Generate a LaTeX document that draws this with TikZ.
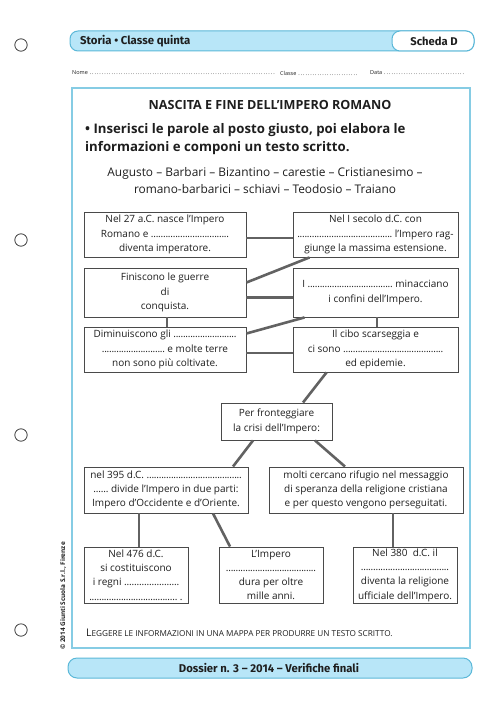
\documentclass[tikz,border=0pt]{standalone}
\usepackage{fontspec}
\setmainfont{Open Sans}
\newfontfamily\hdfont{Fira Sans}
\usetikzlibrary{calc}
\definecolor{hdfill}{HTML}{B8E6F8}
\definecolor{hdline}{HTML}{5BB8D8}
\definecolor{frameline}{HTML}{86CCE4}
\definecolor{boxline}{HTML}{4A4A4A}
\definecolor{conn}{HTML}{626262}
\definecolor{txt}{HTML}{1E1E1E}
\newcommand\dl[1]{\hbox to #1{\xleaders\hbox to 2.4pt{\hss.\hss}\hfil}}
\begin{document}
\begin{tikzpicture}[x=1pt,y=-1pt,
  bx/.style={draw=boxline, line width=0.9pt, fill=white, align=center, inner sep=0pt,
     font=\fontsize{10}{14.3}\selectfont, text=txt},
  cn/.style={draw=conn, line width=2.6pt},
  bar/.style={draw=hdline, line width=1pt, fill=hdfill, rounded corners=8pt},
  hole/.style={draw=black!75, line width=0.8pt},
  lbl/.style={text=txt, inner sep=0pt}]
\useasboundingbox (0,0) rectangle (500,708);
% holes
\foreach \yy in {45,240,435,630} \draw[hole] (21,\yy) circle[radius=6.2pt];
% header bar
\draw[bar] (70,31) rectangle (474,51);
\draw[bar, fill=white] (392,31) rectangle (474,51);
\node[lbl, anchor=west, font=\hdfont\fontsize{11.4}{13}\selectfont\bfseries] (hd) at (80,41) {Storia • Classe quinta};
\node[lbl, font=\hdfont\fontsize{11.2}{12}\selectfont\bfseries] (sc) at (434,41.5) {Scheda D};
% name line
\node[lbl, anchor=west, font=\fontsize{5.5}{6}\selectfont] (nome) at (72,73) {Nome \dl{186pt}};
\node[lbl, anchor=west, font=\fontsize{5.5}{6}\selectfont] (classe) at (280,73) {Classe \dl{60pt}};
\node[lbl, anchor=west, font=\fontsize{5.5}{6}\selectfont] (data) at (370,73) {Data \dl{81pt}};
% frame
\draw[frameline, line width=1.3pt] (72,88) rectangle (470,648);
% title and instructions
\node[lbl, font=\fontsize{12.6}{14}\selectfont\bfseries] (title) at (270,105) {NASCITA E FINE DELL’IMPERO ROMANO};
\node[lbl, anchor=north west, align=left, font=\fontsize{13.2}{18}\selectfont\bfseries] (instr) at (85,123)
  {• Inserisci le parole al posto giusto, poi elabora le\\informazioni e componi un testo scritto.};
\node[lbl, align=center, font=\fontsize{11.9}{17}\selectfont] (words) at (265,180.5)
  {Augusto – Barbari – Bizantino – carestie – Cristianesimo –\\romano-barbarici – schiavi – Teodosio – Traiano};
% boxes
\node[bx, minimum width=162pt, minimum height=45pt] (b1) at (165,234.5)
  {Nel 27 a.C. nasce l’Impero\\Romano e \dl{78pt}\\diventa imperatore.};
\node[bx, minimum width=165pt, minimum height=45pt] (b2) at (375.5,234.5)
  {Nel I secolo d.C. con\\\dl{95pt} l’Impero rag-\\giunge la massima estensione.};
\node[bx, minimum width=162pt, minimum height=49pt] (b3) at (165,292.5)
  {Finiscono le guerre\\di\\conquista.};
\node[bx, minimum width=165pt, minimum height=49pt] (b4) at (375.5,292.5)
  {I \dl{85pt} minacciano\\i confini dell’Impero.};
\node[bx, minimum width=162pt, minimum height=45pt] (b5) at (165,349.5)
  {Diminuiscono gli \dl{63pt}\\\dl{63pt} e molte terre\\non sono più coltivate.};
\node[bx, minimum width=165pt, minimum height=45pt] (b6) at (375.5,349.5)
  {Il cibo scarseggia e\\ci sono \dl{100pt}\\ed epidemie.};
\node[bx, minimum width=111pt, minimum height=37pt] (b7) at (276.5,421.5)
  {Per fronteggiare\\la crisi dell’Impero:};
\node[bx, minimum width=164pt, minimum height=46pt] (b8) at (166,490)
  {nel 395 d.C. \dl{95pt}\\\dl{15pt} divide l’Impero in due parti:\\Impero d’Occidente e d’Oriente.};
\node[bx, minimum width=194pt, minimum height=46pt] (b9) at (366,490)
  {molti cercano rifugio nel messaggio\\di speranza della religione cristiana\\e per questo vengono perseguitati.};
\node[bx, minimum width=104pt, minimum height=56pt] (b10) at (136,575)
  {Nel 476 d.C.\\si costituiscono\\i regni \dl{55pt}\\\dl{88pt} .};
\node[bx, minimum width=104pt, minimum height=56pt] (b11) at (271,575)
  {L’Impero\\\dl{90pt}\\dura per oltre\\mille anni.};
\node[bx, minimum width=104pt, minimum height=56pt] (b12) at (405,575)
  {Nel 380 \ d.C. il\\\dl{88pt}\\diventa la religione\\ufficiale dell’Impero.};
% connectors
\draw[cn] ([yshift=-3.5pt]b1.east) -- ([yshift=-3.5pt]b2.west);
\draw[cn] ([xshift=-66pt]b2.south) -- ([yshift=10pt]b3.east);
\draw[cn] ([yshift=-5pt]b3.east) -- ([yshift=-5pt]b4.west);
\draw[cn] ([xshift=2pt]b3.south) -- ([xshift=2pt]b5.north);
\draw[cn] ([xshift=1.5pt]b4.south) -- ([xshift=1.5pt]b6.north);
\draw[cn] ([xshift=-71pt]b4.south) -- ([yshift=16pt]b5.east);
\draw[cn] ([yshift=-3.5pt]b5.east) -- ([yshift=-3.5pt]b6.west);
\draw[cn] ([xshift=-49pt]b6.south) -- ([xshift=26.5pt]b7.north);
\draw[cn] ([xshift=-23.5pt]b7.south) -- ([xshift=67pt]b8.north);
\draw[cn] ([xshift=38.5pt]b7.south) -- ([xshift=-21pt]b9.north);
\draw[cn] ([xshift=-27pt]b8.south) -- ([xshift=3pt]b10.north);
\draw[cn] ([xshift=47pt]b8.south) -- ([xshift=-41pt]b11.north);
\draw[cn] ([xshift=27pt]b9.south) -- ([xshift=-12pt]b12.north);
% bottom line
\node[lbl, anchor=west, font=\fontsize{8.2}{11}\selectfont] (obj) at (86,633)
  {{\fontsize{10.5}{11}\selectfont L}EGGERE LE INFORMAZIONI IN UNA MAPPA PER PRODURRE UN TESTO SCRITTO.};
% copyright
\node[lbl, rotate=90, font=\fontsize{6.4}{7}\selectfont\bfseries] (copy) at (63,596) {© 2014 Giunti Scuola S.r.l., Firenze};
% footer
\draw[bar, rounded corners=9pt] (68,658) rectangle (472,678);
\node[lbl, font=\hdfont\fontsize{11.3}{12}\selectfont\bfseries] (foot) at (269,668) {Dossier n. 3 – 2014 – Verifiche finali};
\end{tikzpicture}
\end{document}
